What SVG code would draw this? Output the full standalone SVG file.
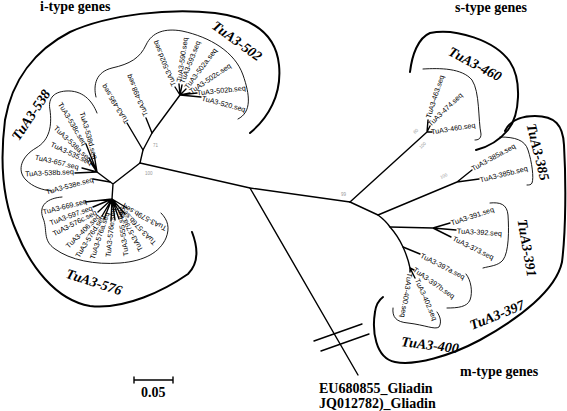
<svg xmlns="http://www.w3.org/2000/svg" width="567" height="411" viewBox="0 0 567 411">
<style>
.br{stroke:#000;stroke-width:1.4;fill:none;stroke-linecap:round;stroke-linejoin:round}
.thick{stroke:#000;stroke-width:2;fill:none;stroke-linecap:round}
.thin{stroke:#000;stroke-width:0.9;fill:none;stroke-linecap:round}
.lf{font-family:"Liberation Sans",Arial,sans-serif;font-size:7.2px;fill:#000}
.cl{font-family:"Liberation Serif","Times New Roman",serif;font-size:14px;font-weight:bold;font-style:italic;text-anchor:middle}
.ti{font-family:"Liberation Serif","Times New Roman",serif;font-weight:bold;font-size:14px}
.bs{font-family:"Liberation Sans",Arial,sans-serif;font-size:4.5px;fill:#999}
</style>
<rect width="567" height="411" fill="#fff"/>
<g id="connectors">
<path class="br" d="M140,163 L250,188 L350,202"/>
<path class="br" d="M250,188 L358,375"/>
<path class="br" d="M314,341 L362,324 M321,351 L369,334" stroke-width="1.2"/>
<path class="br" d="M140,163 L143,150 L152,133 L180,95"/>
<path class="br" d="M143,150 L127,123 M152,133 L146,118"/>
<path class="br" d="M180,95 L175,87 M180,95 L179,84 M180,95 L182,85 M180,95 L186,89 M180,95 L190,93 M180,95 L197,93 M180,95 L201,97"/>
<path class="br" d="M140,163 L113,184 L97,172 M113,184 L112,199"/>
<path class="br" d="M97,172 L94,154 M97,172 L86,144 M97,172 L89,158 M97,172 L91,163 M97,172 L82,168 M97,172 L75,173 M110,182 L93,179"/>
<path class="br" d="M112,199 L85,202 M112,199 L93,207 M112,199 L98,212 M112,199 L102,216 M112,199 L104,219 M112,199 L111,221 M112,199 L115,220 M112,199 L119,219 M112,199 L122,217 M112,199 L125,214 M112,199 L127,208"/>
<path class="br" d="M350,202 L427,132 M427,132 L428,120 M427,132 L430,126 M427,132 L432,132"/>
<path class="br" d="M350,202 L378,215 L457,182 M457,182 L472,170 M457,182 L479,179"/>
<path class="br" d="M378,215 Q386,221 390,227 Q398,236 403,247 Q408,258 410,268"/>
<path class="br" d="M390,227 L433,228 M433,228 L450,223 M433,228 L456,230 M433,228 L451,237"/>
<path class="br" d="M403,247 L420,254 M410,268 L414,270 M410,268 L415,278 M410,268 L410,272"/>
</g>
<g id="clades">
<path class="thick" d="M250,133 C268,118 282,95 279,65 C276,35 255,18 215,13 C170,8 110,14 70,32 C35,50 12,80 5,120 C0,160 2,200 17,233 C30,265 55,300 90,306 C125,310 165,290 188,274 C200,262 197,245 192,232"/>
<path class="thin" d="M96,97 C93,85 96,72 112,68 C130,64 140,58 146,45 C152,32 165,28 182,31 C210,37 235,52 243,75 C250,95 252,112 238,119"/>
<path class="thin" d="M97,113 C92,100 82,90 66,91 C52,92 48,100 50,110 C52,125 50,140 36,148 C22,156 16,170 26,180 C33,187 42,190 52,191"/>
<path class="thin" d="M62,197 C48,198 38,205 43,218 C48,230 42,240 55,249 C70,260 95,265 120,263 C145,261 160,252 166,238 C170,228 168,220 161,213"/>
<path class="thick" d="M410,72 C412,55 418,38 430,33 C455,28 495,40 510,62 C522,80 520,115 508,130 C498,142 488,147 476,150"/>
<path class="thin" d="M423,69 C440,68 462,68 472,80 C480,92 478,120 481,134 C481,139 478,140 475,140"/>
<path class="thick" d="M505,131 C510,120 520,116 535,116 C555,116 563,125 564,145 C566,180 566,230 562,262 C556,290 520,318 480,340 C450,356 415,366 395,362 C375,358 372,330 375,312 C376,304 379,300 383,297"/>
<path class="thin" d="M500,137 C515,137 525,140 528,150 C532,162 534,178 532,183 C531,185 529,185 527,185"/>
<path class="thin" d="M490,203 C500,202 507,204 508,215 C509,230 509,252 503,260 C498,266 490,266 483,268"/>
<path class="thin" d="M466,274 C471,280 473,292 470,300 C467,307 458,308 447,308"/>
<path class="thin" d="M393,308 C392,317 396,322 408,323 C425,325 435,330 439,327 C442,322 440,316 437,312"/>
</g>
<g id="clade-labels">
<text class="cl" transform="translate(237,41) rotate(36)" dy="0.33em">TuA3-502</text>
<text class="cl" transform="translate(31,115) rotate(-56)" dy="0.33em">TuA3-538</text>
<text class="cl" transform="translate(94,282) rotate(18)" dy="0.33em">TuA3-576</text>
<text class="cl" transform="translate(475,64) rotate(28)" dy="0.33em">TuA3-460</text>
<text class="cl" transform="translate(538,152) rotate(76)" dy="0.33em">TuA3-385</text>
<text class="cl" transform="translate(527,248) rotate(80)" dy="0.33em">TuA3-391</text>
<text class="cl" transform="translate(497,315) rotate(-22)" dy="0.33em">TuA3-397</text>
<text class="cl" transform="translate(430,345) rotate(7)" dy="0.33em">TuA3-400</text>
</g>
<g id="titles">
<text class="ti" x="40" y="11">i-type genes</text>
<text class="ti" x="455" y="12">s-type genes</text>
<text class="ti" x="460" y="376">m-type genes</text>
<text class="ti" x="319" y="392.5">EU680855_Gliadin</text>
<text class="ti" x="319" y="407.5">JQ012782)_Gliadin</text>
</g>
<g id="scale">
<path class="br" d="M134,380 H173 M134,377 V383 M173,377 V383" stroke-width="1.6"/>
<text class="ti" x="141" y="396.5" font-size="12">0.05</text>
</g>
<g id="bootstrap">
<text class="bs" x="145" y="175">100</text>
<text class="bs" x="153" y="147">71</text>
<text class="bs" x="341" y="196">99</text>
<text class="bs" transform="translate(415,134) rotate(-45)">60</text>
<text class="bs" transform="translate(421,149) rotate(-45)">100</text>
<text class="bs" transform="translate(441,179) rotate(-25)">100</text>
</g>
<g id="leaves">
<g id="n495"><text class="lf" transform="translate(127,123) rotate(-122)" dy="0.35em">TuA3-495.seq</text></g>
<g id="n498"><text class="lf" transform="translate(146,116) rotate(-113)" dy="0.35em">TuA3-498.seq</text></g>
<g id="n502d"><text class="lf" transform="translate(174,86) rotate(-113)" dy="0.35em">TuA3-502d.seq</text></g>
<g id="n590"><text class="lf" transform="translate(179,82) rotate(-82)" dy="0.35em">TuA3-590.seq</text></g>
<g id="n593"><text class="lf" transform="translate(182,83) rotate(-69)" dy="0.35em">TuA3-593.seq</text></g>
<g id="n502a"><text class="lf" transform="translate(186,88) rotate(-53)" dy="0.35em">TuA3-502a.seq</text></g>
<g id="n502c"><text class="lf" transform="translate(190,92) rotate(-34)" dy="0.35em">TuA3-502c.seq</text></g>
<g id="n502b"><text class="lf" transform="translate(197,93) rotate(-6)" dy="0.35em">TuA3-502b.seq</text></g>
<g id="n520"><text class="lf" transform="translate(202,98) rotate(15)" dy="0.35em">TuA3-520.seq</text></g>
<g id="n538c"><text class="lf" transform="translate(60,103) rotate(59)" dy="0.35em">TuA3-538c.seq</text></g>
<g id="n538d"><text class="lf" transform="translate(82,112) rotate(74)" dy="0.35em">TuA3-538d.seq</text></g>
<g id="n538a"><text class="lf" transform="translate(55,127) rotate(43)" dy="0.35em">TuA3-538a.seq</text></g>
<g id="n535"><text class="lf" transform="translate(51,144) rotate(25)" dy="0.35em">TuA3-535.seq</text></g>
<g id="n657"><text class="lf" transform="translate(35,157) rotate(13)" dy="0.35em">TuA3-657.seq</text></g>
<g id="n538b"><text class="lf" transform="translate(25,174) rotate(-3)" dy="0.35em">TuA3-538b.seq</text></g>
<g id="n538e"><text class="lf" transform="translate(46,192) rotate(-15)" dy="0.35em">TuA3-538e.seq</text></g>
<g id="n669"><text class="lf" transform="translate(43,212) rotate(-14)" dy="0.35em">TuA3-669.seq</text></g>
<g id="n597"><text class="lf" transform="translate(50,223) rotate(-20)" dy="0.35em">TuA3-597.seq</text></g>
<g id="n576c"><text class="lf" transform="translate(53,234) rotate(-27)" dy="0.35em">TuA3-576c.seq</text></g>
<g id="n406"><text class="lf" transform="translate(67,247) rotate(-45)" dy="0.35em">TuA3-406.seq</text></g>
<g id="n576d"><text class="lf" transform="translate(77,257) rotate(-58)" dy="0.35em">TuA3-576d.seq</text></g>
<g id="n576a"><text class="lf" transform="translate(92,259) rotate(-72)" dy="0.35em">TuA3-576a.seq</text></g>
<g id="n576e"><text class="lf" transform="translate(108,257) rotate(-84)" dy="0.35em">TuA3-576e.seq</text></g>
<g id="n555"><text class="lf" transform="translate(126,256) rotate(-98)" dy="0.35em">TuA3-555.seq</text></g>
<g id="n579a"><text class="lf" transform="translate(141,251) rotate(-118)" dy="0.35em">TuA3-579a.seq</text></g>
<g id="n576b"><text class="lf" transform="translate(155,244) rotate(-134)" dy="0.35em">TuA3-576b.seq</text></g>
<g id="n579b"><text class="lf" transform="translate(166,229) rotate(-152)" dy="0.35em">TuA3-579b.seq</text></g>
<g id="n463"><text class="lf" transform="translate(428,118) rotate(-72)" dy="0.35em">TuA3-463.seq</text></g>
<g id="n474"><text class="lf" transform="translate(429,125) rotate(-44)" dy="0.35em">TuA3-474.seq</text></g>
<g id="n460"><text class="lf" transform="translate(431,132) rotate(-9)" dy="0.35em">TuA3-460.seq</text></g>
<g id="n385a"><text class="lf" transform="translate(472,169) rotate(-29)" dy="0.35em">TuA3-385a.seq</text></g>
<g id="n385b"><text class="lf" transform="translate(480,180) rotate(-14)" dy="0.35em">TuA3-385b.seq</text></g>
<g id="n391"><text class="lf" transform="translate(451,223) rotate(-18)" dy="0.35em">TuA3-391.seq</text></g>
<g id="n392"><text class="lf" transform="translate(457,231) rotate(3)" dy="0.35em">TuA3-392.seq</text></g>
<g id="n373"><text class="lf" transform="translate(453,238) rotate(26)" dy="0.35em">TuA3-373.seq</text></g>
<g id="n397a"><text class="lf" transform="translate(421,255) rotate(27)" dy="0.35em">TuA3-397a.seq</text></g>
<g id="n397b"><text class="lf" transform="translate(414,269) rotate(35)" dy="0.35em">TuA3-397b.seq</text></g>
<g id="n402"><text class="lf" transform="translate(417,279) rotate(66)" dy="0.35em">TuA3-402.seq</text></g>
<g id="n400"><text class="lf" transform="translate(410,273) rotate(99)" dy="0.35em">TuA3-400.seq</text></g>
</g>
</svg>
